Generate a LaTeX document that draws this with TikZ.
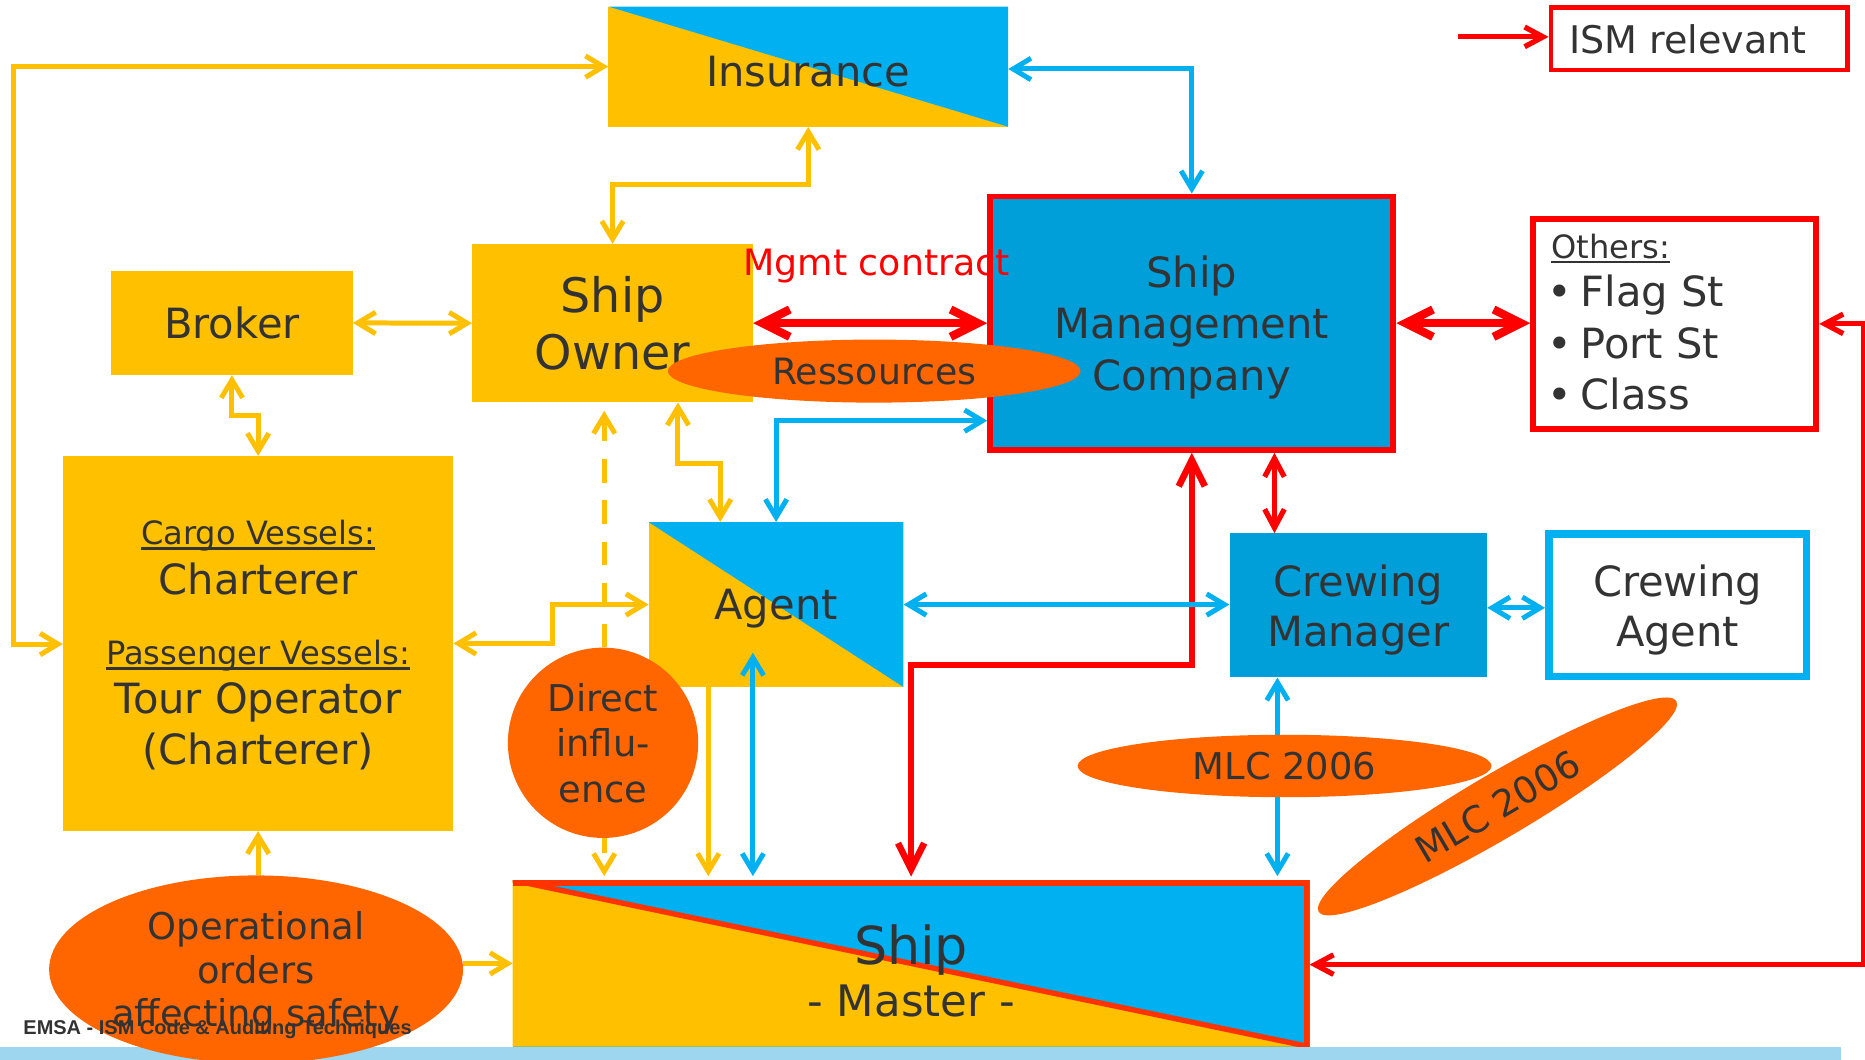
\documentclass[tikz,border=0pt]{standalone}
\usepackage{fontspec}
\setmainfont{DejaVu Sans}
\newfontfamily\footfont{Liberation Sans}
\usetikzlibrary{arrows.meta,shapes.geometric}
\definecolor{cyel}{HTML}{FFC000}
\definecolor{cblue}{HTML}{00B0F0}
\definecolor{cdblue}{HTML}{009FDA}
\definecolor{corange}{HTML}{FF6600}
\definecolor{cred}{HTML}{FF0000}
\definecolor{cshipred}{HTML}{FF3300}
\definecolor{ctext}{HTML}{333333}
\definecolor{cbar}{HTML}{9DD6EE}
\newcommand\myfs[2]{\fontsize{#1pt}{#2pt}\selectfont}
\newcommand\myul[1]{\setbox0=\hbox{#1}\rlap{\vrule width\wd0 height -2pt depth 4pt}\box0}
\begin{document}
\begin{tikzpicture}[x=1pt,y=-1pt,
  txt/.style={text=ctext, inner sep=0pt},
  fbox/.style={rectangle, inner sep=0pt, text=ctext, align=center, text depth=0pt},
  oval/.style={ellipse, fill=corange, inner sep=0pt, text=ctext, align=center, text depth=0pt},
  bluetri/.style={path picture={\fill[cblue] (path picture bounding box.north west) -- (path picture bounding box.north east) -- (path picture bounding box.south east) -- cycle;}},
  yeltri/.style={path picture={
      \fill[cyel] (path picture bounding box.north west) -- (path picture bounding box.south east) -- (path picture bounding box.south west) -- cycle;
      \draw[cshipred, line width=9pt] (path picture bounding box.north west) -- (path picture bounding box.north east) -- (path picture bounding box.south east);
      \draw[cshipred, line width=4.5pt] (path picture bounding box.north west) -- (path picture bounding box.south east);}},
  yarr/.style={draw=cyel, line width=4.2pt, >={Straight Barb[length=15pt,width=18pt]}},
  ydash/.style={yarr, dash pattern=on 19.6pt off 15pt},
  barr/.style={draw=cblue, line width=4.2pt, >={Straight Barb[length=15pt,width=18pt]}},
  rthick/.style={draw=cred, line width=7pt, >={Straight Barb[length=23pt,width=23pt]}},
  rmed/.style={draw=cred, line width=5.5pt, >={Straight Barb[length=22pt,width=22pt]}},
  rthin/.style={draw=cred, line width=4.4pt, >={Straight Barb[length=15.5pt,width=16.5pt]}}
]
\useasboundingbox (0,0) rectangle (1568,891);

% ---------- boxes ----------
\node[fbox, fill=cyel, bluetri, minimum width=336pt, minimum height=101pt, font=\myfs{35}{43}, text height=33pt] (ins) at (679.5,56) {Insurance};

\node[fbox, fill=white, draw=cred, line width=3.5pt, minimum width=249.5pt, minimum height=52.5pt] (ism) at (1428.5,32.5) {};
\node[txt, font=\myfs{32}{38}, text depth=0pt] (ismtxt) at (1419,32.5) {ISM relevant};

\node[fbox, fill=cdblue, draw=cred, line width=5pt, minimum width=339pt, minimum height=213pt, font=\myfs{35}{43}] (smc) at (1002,271.7) {Ship\\Management\\Company};

\node[fbox, fill=white, draw=cred, line width=5pt, minimum width=238pt, minimum height=177pt] (oth) at (1408,272.3) {};
\node[txt, anchor=base west, font=\myfs{27}{32}] (oth1) at (1304,217.5) {\myul{Others:}};
\node[txt, anchor=base west, font=\myfs{35}{43}] (oth2) at (1301,258) {•\hspace{7pt}Flag St};
\node[txt, anchor=base west, font=\myfs{35}{43}] (oth3) at (1301,301) {•\hspace{7pt}Port St};
\node[txt, anchor=base west, font=\myfs{35}{43}] (oth4) at (1301,344) {•\hspace{7pt}Class};

\node[fbox, fill=cyel, minimum width=203pt, minimum height=87.5pt, font=\myfs{35}{43}] (broker) at (195,271.5) {Broker};
\node[fbox, fill=cyel, minimum width=236pt, minimum height=133pt, font=\myfs{40}{48}] (so) at (515,271.7) {Ship\\Owner};

\node[fbox, fill=cyel, minimum width=328pt, minimum height=315pt] (char) at (217,541) {};
\node[txt, anchor=base, font=\myfs{27}{32}] (char1) at (217,458) {\myul{Cargo Vessels:}};
\node[txt, anchor=base, font=\myfs{35}{43}] (char2) at (217,500) {Charterer};
\node[txt, anchor=base, font=\myfs{27}{32}] (char3) at (217,559) {\myul{Passenger Vessels:}};
\node[txt, anchor=base, font=\myfs{35}{43}] (char4) at (217,600) {Tour Operator};
\node[txt, anchor=base, font=\myfs{35}{43}] (char5) at (217,643) {(Charterer)};

\node[fbox, fill=cyel, bluetri, minimum width=214pt, minimum height=138.5pt, font=\myfs{35}{43}] (agent) at (652.5,508.3) {Agent};

\node[fbox, fill=cdblue, minimum width=216.5pt, minimum height=121pt, font=\myfs{35}{42}] (cm) at (1142,509) {Crewing\\Manager};
\node[fbox, fill=white, draw=cblue, line width=6.5pt, minimum width=216.5pt, minimum height=119.5pt, font=\myfs{35}{42}] (ca) at (1410.5,509) {Crewing\\Agent};

\node[fbox, fill=cblue, yeltri, minimum width=670pt, minimum height=140pt, outer sep=0pt] (ship) at (766,810) {};
\node[txt, anchor=base, font=\myfs{44}{50}] (shipt) at (766,811) {Ship};
\node[txt, anchor=base, font=\myfs{36.5}{43}] (shipm) at (766,855) {- Master -};

% ---------- footer bar and operational orders ----------
\fill[cbar] (0,880) rectangle (1548,891);
\node[oval, minimum width=348pt, minimum height=158pt, font=\myfs{31}{36.5}] (op) at (215.3,815) {Operational\\orders\\affecting safety};

% ---------- helper coordinates ----------
\coordinate (dtop) at ([xshift=-7pt,yshift=-7pt]so.south);
\coordinate (dbot) at (dtop |- ship.north);
\coordinate (a1) at ([xshift=-57pt]agent.south);
\coordinate (a1b) at (a1 |- ship.north);
\coordinate (a2) at ([xshift=-19.5pt,yshift=29pt]agent.south);
\coordinate (a2b) at (a2 |- ship.north);
\coordinate (s1) at ([xshift=69.5pt]smc.south);
\coordinate (s1b) at (s1 |- cm.north);
\coordinate (c1) at ([xshift=-68pt]cm.south);
\coordinate (c1b) at (c1 |- ship.north);
\coordinate (cmE) at ([yshift=-2pt]cm.east);
\coordinate (caW) at (cmE -| ca.west);
\coordinate (agE) at (agent.east);
\coordinate (cmW) at (agE -| cm.west);
\coordinate (smE) at (smc.east);
\coordinate (otW) at (smE -| oth.west);
\coordinate (opN) at (char.south |- op.north);
\coordinate (opE) at (ship.west -| op.east);
\coordinate (ismtail) at (1225.5,31);
\coordinate (ismhead) at (ismtail -| ism.west);

% ---------- red connectors ----------
\draw[rthick,<->] (so.east) -- (smc.west);
\draw[rthick,<->] (smE) -- (otW);
\draw[rmed,<->,shorten <=3pt] (ship.north) -- ++(0,-181) -| (smc.south);
\draw[rthin,<->] (s1) -- (s1b);
\draw[rthin,<->] (oth.east) -- ++(37,0) |- ([yshift=-1pt]ship.east);
\draw[rthin,->] (ismtail) -- (ismhead);

% ---------- blue connectors ----------
\draw[barr,<->] ([yshift=-2pt]ins.east) -| (smc.north);
\draw[barr,<->] (agent.north) |- ([yshift=-82pt]smc.west);
\draw[barr,<->,shorten >=3.4pt] (a2) -- (a2b);
\draw[barr,<->] (agE) -- (cmW);
\draw[barr,<->] (cmE) -- (caW);
\draw[barr,<->,shorten >=3.4pt] (c1) -- (c1b);

% ---------- yellow connectors ----------
\draw[yarr,<->] (so.north) -- ++(0,-50) -| (ins.south);
\draw[yarr,<->] (ins.west) -- ++(-500,0) |- ([yshift=-0.5pt]char.west);
\draw[yarr,<->] (broker.east) -- (so.west);
\draw[yarr,<->] (broker.south) -- ++(0,34) -| (char.north);
\draw[yarr,<->] ([xshift=55pt]so.south) -- ++(0,51) -| ([xshift=-47pt]agent.north);
\draw[yarr,<->] (char.east) -- ++(83,0) |- (agent.west);
\draw[ydash,<->,shorten >=3.4pt] (dtop) -- (dbot);
\draw[yarr,->,shorten >=3.4pt] (a1) -- (a1b);
\draw[yarr,->] (opN) -- (char.south);
\draw[yarr,->] (opE) -- (ship.west);

% ---------- ovals on top ----------
\node[oval, minimum width=347pt, minimum height=53pt, font=\myfs{30.5}{36}] (res) at (735,312) {Ressources};
\node[oval, minimum width=160pt, minimum height=160pt, font=\myfs{31}{38}] (di) at (507,624.5) {Direct\\influ-\\ence};
\node[oval, minimum width=348pt, minimum height=52.5pt, font=\myfs{31}{38}] (mlc1) at (1080,644) {MLC 2006};
\node[oval, rotate=30.5, minimum width=349pt, minimum height=54pt, font=\myfs{31}{38}] (mlc2) at (1259,678) {MLC 2006};

% ---------- labels ----------
\node[txt, anchor=base, text=cred, font=\myfs{30.5}{36}] (mgmt) at (737,231.5) {Mgmt contract};
\node[txt, anchor=base west, font=\footfont\bfseries\myfs{16.8}{20}] (foot) at (19.5,869.6) {EMSA - ISM Code \& Auditing Techniques};
\end{tikzpicture}
\end{document}
